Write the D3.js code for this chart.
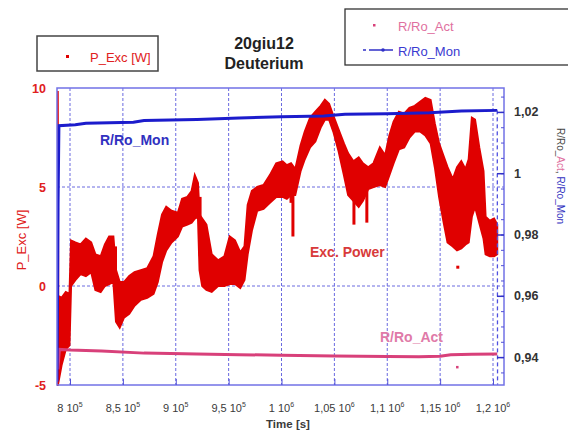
<!DOCTYPE html>
<html>
<head>
<meta charset="utf-8">
<script src="https://cdn.jsdelivr.net/npm/d3@7"></script>
<style>
  html, body { margin: 0; padding: 0; background: #fff; }
  svg { display: block; font-family: "Liberation Sans", Arial, sans-serif; }
</style>
</head>
<body>
<svg id="chart" width="568" height="435"></svg>
<script>
// ---- Time axis ticks ----
const xTickValues = [800000, 850000, 900000, 950000, 1000000, 1050000, 1100000, 1150000, 1200000];
const xTickMantissa = ["8", "8,5", "9", "9,5", "1", "1,05", "1,1", "1,15", "1,2"];
const xTickExp = ["5", "5", "5", "5", "6", "6", "6", "6", "6"];

// ---- Left axis (P_Exc) ticks ----
const leftTickValues = [10, 5, 0, -5];
const leftTickLabels = ["10", "5", "0", "-5"];

// ---- Right axis (R/Ro) ticks ----
const rightTickValues = [1.02, 1.0, 0.98, 0.96, 0.94];
const rightTickLabels = ["1,02", "1", "0,98", "0,96", "0,94"];

// ---- P_Exc [W]: upper / lower edge of the scatter band ----
const pTime = [787700, 788400, 788900, 792000, 796000, 799500, 801000, 805000, 810000, 815000, 820000,
  824000, 829000, 833000, 837000, 841000, 843500, 847000, 851000, 856000, 861000,
  867000, 873000, 879000, 883000, 887000, 891000, 896000, 902000, 906000, 911000,
  915000, 918000, 921000, 922500, 925000, 929000, 934000, 940000, 946000, 951000,
  956000, 961000, 965000, 968000, 972000, 977000, 983000, 989000, 995000, 1001000,
  1005000, 1009000, 1013000, 1018000, 1022000, 1027000, 1032000, 1037000, 1041000, 1045000,
  1049000, 1054000, 1059000, 1063000, 1068000, 1073000, 1077000, 1082000, 1087000, 1093000,
  1098000, 1102000, 1106000, 1111000, 1116000, 1121000, 1126000, 1131000, 1136000, 1141000,
  1145000, 1149000, 1153000, 1157000, 1162000, 1166000, 1170000, 1174000, 1177000, 1180000,
  1183000, 1187000, 1191000, 1193000, 1197000, 1201000, 1204000];
const pHigh = [9.8, 9.8, -0.5, -0.6, -0.3, -0.4, 2.3, 2.2, 2.1, 2.4, 2.2,
  1.6, 1.5, 2.1, 2.5, 2.5, 0.8, 0.2, 0.2, 0.5, 0.7,
  0.8, 0.9, 1.5, 2.6, 3.6, 4.0, 3.8, 3.7, 4.4, 4.5,
  4.8, 5.6, 5.2, 3.6, 3.4, 3.1, 1.6, 1.3, 1.5, 2.5,
  2.3, 1.7, 2.0, 4.1, 4.8, 5.0, 5.1, 5.6, 6.2, 6.3,
  6.1, 6.2, 5.9, 7.1, 7.8, 8.5, 8.8, 9.1, 9.4, 9.2,
  8.6, 7.9, 7.2, 6.7, 6.3, 6.5, 6.2, 6.0, 6.2, 7.0,
  6.6, 7.6, 8.3, 8.8, 8.7, 9.0, 9.1, 9.3, 9.5, 9.4,
  8.2, 7.2, 6.6, 6.0, 5.4, 6.0, 6.3, 5.9, 6.4, 8.5,
  8.4, 7.0, 5.8, 3.5, 3.3, 3.4, 3.1];
const pLow = [-5.0, -5.0, -4.9, -4.0, -3.2, -3.0, 0.0, 0.3, 0.6, 0.5, 0.7,
  -0.2, -0.3, 0.0, 0.1, 0.2, -1.8, -2.1, -1.6, -1.4, -1.0,
  -0.7, -0.6, -0.4, 0.2, 1.2, 1.8, 2.2, 2.5, 3.0, 3.1,
  3.2, 3.4, 3.5, 0.8, 0.0, -0.2, -0.3, 0.0, 0.0, 0.1,
  0.1, -0.1, 0.3, 1.6, 2.8, 3.8, 3.9, 4.2, 4.5, 4.5,
  4.4, 4.6, 4.6, 5.8, 6.4, 7.0, 7.3, 8.0, 8.4, 8.4,
  7.8, 6.8, 5.6, 4.6, 4.3, 4.0, 4.3, 4.9, 5.0, 5.1,
  5.0, 5.6, 6.2, 6.9, 7.0, 7.5, 7.8, 7.8, 7.6, 7.2,
  6.0, 4.5, 3.3, 2.2, 2.0, 1.8, 1.9, 2.1, 2.2, 3.5,
  4.0, 3.2, 2.4, 1.6, 1.5, 1.5, 1.6];

// Short downward excursions of P_Exc
const spikeTime = [1010800, 1068500, 1080700, 1009000, 843000, 923000];
const spikeTop = [5.5, 5.0, 5.2, 5.6, 2.0, 4.5];
const spikeBottom = [2.5, 3.1, 3.2, 4.2, -1.0, 1.5];

// Isolated P_Exc samples
const pOutTime = [1166700];
const pOutVal = [0.95];

// ---- R/Ro_Mon ----
const monTime = [787700, 788700, 789500, 805000, 815000, 860000, 870000, 920000, 960000,
  1000000, 1040000, 1060000, 1100000, 1140000, 1170000, 1204000];
const monVal = [0.932, 0.99, 1.0155, 1.0158, 1.0163, 1.0166, 1.0172, 1.0175, 1.018,
  1.0184, 1.0187, 1.0192, 1.0194, 1.0197, 1.0203, 1.0205];
// trailing samples at the end of the run
const monTailTime = [1204000, 1204300];
const monTailVal = [1.0205, 0.931];

// ---- R/Ro_Act ----
const actTime = [788500, 790000, 800000, 830000, 870000, 920000, 960000, 1000000, 1050000,
  1100000, 1130000, 1150000, 1160000, 1180000, 1204000];
const actVal = [0.936, 0.9425, 0.9423, 0.942, 0.9413, 0.941, 0.9408, 0.9406, 0.9404,
  0.9402, 0.9401, 0.9403, 0.9408, 0.9409, 0.9410];
const actOutTime = [1166000];
const actOutVal = [0.9368];

// ---- layout ----
const svg = d3.select("#chart");
const L = 57, R = 504, T = 88, B = 385;

const x = d3.scaleLinear().domain([787700, 1210400]).range([L, R]);
const yL = d3.scaleLinear().domain([-5, 10]).range([B, T]);
const yR = d3.scaleLinear().domain([0.9309, 1.0278]).range([B, T]);

const RED = "#e00000";
const BLUE = "#1c1ccc";
const PINK = "#d8407a";
const GRID = "#6a6ae0";

// grid
const g = svg.append("g");
g.selectAll(".vg").data(xTickValues).join("line")
  .attr("x1", d => x(d)).attr("x2", d => x(d)).attr("y1", T).attr("y2", B)
  .attr("stroke", GRID).attr("stroke-width", 1).attr("stroke-dasharray", "3,2");
g.selectAll(".hg").data([5, 0]).join("line")
  .attr("x1", L).attr("x2", R).attr("y1", d => yL(d)).attr("y2", d => yL(d))
  .attr("stroke", GRID).attr("stroke-width", 1).attr("stroke-dasharray", "3,2");

// clip for data
svg.append("clipPath").attr("id", "plotclip").append("rect")
  .attr("x", L).attr("y", T - 2).attr("width", R - L).attr("height", B - T + 3);
const data = svg.append("g").attr("clip-path", "url(#plotclip)");

// P_Exc band
const pRows = pTime.map((t, i) => ({ t, hi: pHigh[i], lo: pLow[i] }));
data.append("path").datum(pRows)
  .attr("d", d3.area().x(d => x(d.t)).y0(d => yL(d.lo)).y1(d => yL(d.hi)))
  .attr("fill", RED).attr("stroke", RED).attr("stroke-width", 2).attr("stroke-linejoin", "miter");

data.selectAll(".spike").data(spikeTime).join("line")
  .attr("x1", d => x(d)).attr("x2", d => x(d))
  .attr("y1", (d, i) => yL(spikeTop[i])).attr("y2", (d, i) => yL(spikeBottom[i]))
  .attr("stroke", RED).attr("stroke-width", 3);
data.selectAll(".pout").data(pOutTime).join("rect")
  .attr("x", d => x(d) - 1.5).attr("y", (d, i) => yL(pOutVal[i]) - 1.5)
  .attr("width", 3).attr("height", 3).attr("fill", RED);

// R/Ro_Act
const actRows = actTime.map((t, i) => ({ t, v: actVal[i] }));
data.append("path").datum(actRows)
  .attr("d", d3.line().x(d => x(d.t)).y(d => yR(d.v)))
  .attr("fill", "none").attr("stroke", PINK).attr("stroke-width", 3);
data.selectAll(".aout").data(actOutTime).join("rect")
  .attr("x", d => x(d) - 1).attr("y", (d, i) => yR(actOutVal[i]) - 1)
  .attr("width", 2.5).attr("height", 2.5).attr("fill", PINK);

// R/Ro_Mon
const monRows = monTime.map((t, i) => ({ t, v: monVal[i] }));
data.append("path").datum(monRows)
  .attr("d", d3.line().x(d => x(d.t)).y(d => yR(d.v)))
  .attr("fill", "none").attr("stroke", BLUE).attr("stroke-width", 3);
const tailRows = monTailTime.map((t, i) => ({ t, v: monTailVal[i] }));
data.append("path").datum(tailRows)
  .attr("d", d3.line().x(d => x(d.t)).y(d => yR(d.v)))
  .attr("fill", "none").attr("stroke", "#5050e0").attr("stroke-width", 1.3)
  .attr("stroke-dasharray", "4,3");

// frame
svg.append("rect").attr("x", L).attr("y", T).attr("width", R - L).attr("height", B - T)
  .attr("fill", "none").attr("stroke", "#7272e6").attr("stroke-width", 1.5);

// bottom axis ticks (inside) and labels
const xAxis = d3.axisBottom(x).tickValues(xTickValues).tickSizeInner(-6).tickSizeOuter(0).tickFormat("");
const xg = svg.append("g").attr("transform", `translate(0,${B})`).call(xAxis);
xg.select(".domain").remove();
xg.selectAll(".tick line").attr("stroke", "#5050d8");
const xl = svg.append("g").attr("font-size", 11).attr("fill", "#3a3a3a");
xTickValues.forEach((v, i) => {
  const t = xl.append("text").attr("x", x(v)).attr("y", 412).attr("text-anchor", "middle");
  t.append("tspan").text(xTickMantissa[i] + " 10");
  t.append("tspan").attr("font-size", 7).attr("dy", -5).text(xTickExp[i]);
});
svg.append("text").attr("x", 288).attr("y", 428).attr("text-anchor", "middle")
  .attr("font-size", 11.5).attr("font-weight", "bold").attr("fill", "#3a3a3a").text("Time [s]");

// left axis labels
const ylg = svg.append("g").attr("font-size", 12.5).attr("font-weight", "bold").attr("fill", "#e02020");
leftTickValues.forEach((v, i) => {
  ylg.append("text").attr("x", 46).attr("y", yL(v) + 4.5).attr("text-anchor", "end").text(leftTickLabels[i]);
});
svg.append("text").attr("transform", "translate(26,240) rotate(-90)").attr("text-anchor", "middle")
  .attr("font-size", 13).attr("fill", "#e02020").text("P_Exc [W]");

// right axis: inner ticks and labels
const yAxisR = d3.axisRight(yR).tickValues(d3.range(0.935, 1.0276, 0.005)).tickSize(-3).tickFormat("");
const yrg = svg.append("g").attr("transform", `translate(${R},0)`).call(yAxisR);
yrg.select(".domain").remove();
yrg.selectAll(".tick line").attr("stroke", "#5050d8");
const yAxisR2 = d3.axisRight(yR).tickValues(rightTickValues).tickSize(-7).tickFormat("");
const yrg2 = svg.append("g").attr("transform", `translate(${R},0)`).call(yAxisR2);
yrg2.select(".domain").remove();
yrg2.selectAll(".tick line").attr("stroke", "#3030c8").attr("stroke-width", 1.5);
const yrl = svg.append("g").attr("font-size", 12.5).attr("font-weight", "bold").attr("fill", "#333");
rightTickValues.forEach((v, i) => {
  yrl.append("text").attr("x", 514).attr("y", yR(v) + 4.5).text(rightTickLabels[i]);
});
const rt = svg.append("text").attr("transform", "translate(557,128) rotate(90)")
  .attr("font-size", 10);
rt.append("tspan").attr("fill", "#444").text("R/Ro_");
rt.append("tspan").attr("fill", "#e070a0").text("Act");
rt.append("tspan").attr("fill", "#444").text(", ");
rt.append("tspan").attr("fill", "#3030c0").text("R/Ro_Mon");

// title
svg.append("text").attr("x", 264).attr("y", 49).attr("text-anchor", "middle")
  .attr("font-size", 16).attr("font-weight", "bold").attr("fill", "#222").text("20giu12");
svg.append("text").attr("x", 264).attr("y", 69).attr("text-anchor", "middle")
  .attr("font-size", 16).attr("font-weight", "bold").attr("fill", "#222").text("Deuterium");

// legend: P_Exc
svg.append("rect").attr("x", 37).attr("y", 36).attr("width", 121).attr("height", 35)
  .attr("fill", "#fff").attr("stroke", "#444").attr("stroke-width", 1.5);
svg.append("rect").attr("x", 66).attr("y", 55).attr("width", 3).attr("height", 3).attr("fill", RED);
svg.append("text").attr("x", 90).attr("y", 62).attr("font-size", 13).attr("fill", "#e02020").text("P_Exc [W]");

// legend: R/Ro
svg.append("rect").attr("x", 345).attr("y", 9).attr("width", 240).attr("height", 56)
  .attr("fill", "#fff").attr("stroke", "#333").attr("stroke-width", 1.3);
svg.append("rect").attr("x", 373).attr("y", 24).attr("width", 2.5).attr("height", 2.5).attr("fill", PINK);
svg.append("text").attr("x", 398).attr("y", 31).attr("font-size", 13).attr("fill", "#e070a0").text("R/Ro_Act");
svg.append("line").attr("x1", 363).attr("x2", 393).attr("y1", 50).attr("y2", 50)
  .attr("stroke", "#3030c8").attr("stroke-width", 1.5).attr("stroke-dasharray", "3,3,24");
svg.append("circle").attr("cx", 383).attr("cy", 50).attr("r", 1.8).attr("fill", "#3030c8");
svg.append("text").attr("x", 398).attr("y", 56).attr("font-size", 13).attr("fill", "#3a3ad0").text("R/Ro_Mon");

// in-plot series labels
svg.append("text").attr("x", 100).attr("y", 145).attr("font-size", 14).attr("font-weight", "bold")
  .attr("fill", "#3030c0").text("R/Ro_Mon");
svg.append("text").attr("x", 310).attr("y", 257).attr("font-size", 14).attr("font-weight", "bold")
  .attr("fill", "#d83a3a").text("Exc. Power");
svg.append("text").attr("x", 380).attr("y", 342).attr("font-size", 14).attr("font-weight", "bold")
  .attr("fill", "#e07aa8").text("R/Ro_Act");
</script>
</body>
</html>
